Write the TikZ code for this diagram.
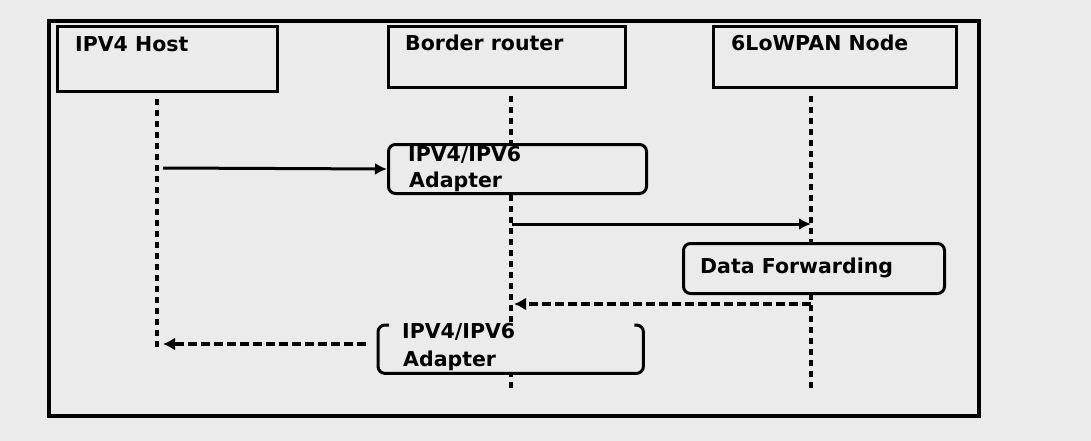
\documentclass[tikz,border=0pt]{standalone}
\usepackage{fontspec}
\setmainfont{DejaVu Sans}
\usetikzlibrary{arrows.meta}
\definecolor{bg}{HTML}{EBEBEB}
\begin{document}
\begin{tikzpicture}[x=1pt,y=-1pt,
  lbl/.style={anchor=base west, inner sep=0pt, font=\fontsize{20.5}{26}\selectfont\bfseries},
  headbox/.style={draw, line width=3.4pt, anchor=north west, inner sep=0pt, fill=bg},
  roundbox/.style={draw, line width=3pt, anchor=north west, inner sep=0pt, fill=bg, rounded corners=7pt},
  lifeline/.style={line width=4.5pt, dash pattern=on 6pt off 5pt},
  msg/.style={line width=3pt, -{Latex[length=12pt,width=12pt]}},
  retmsg/.style={line width=3.6pt, dash pattern=on 9pt off 4pt, -{Latex[length=12pt,width=13pt]}}
]
\fill[bg] (0,0) rectangle (1091,441);
\useasboundingbox (0,0) rectangle (1091,441);
\node[draw, line width=3.6pt, anchor=north west, minimum width=930pt, minimum height=395pt, inner sep=0pt] (frame) at (47,19) {};

% lifeline end points
\coordinate (h1top) at (157,99);
\coordinate (h1bot) at (157,350);
\coordinate (h2top) at (511,96);
\coordinate (h2bot) at (511,392);
\coordinate (h3top) at (811,96);
\coordinate (h3bot) at (811,392);
\draw[lifeline] (h1top) -- (h1bot);
\draw[lifeline] (h2top) -- (h2bot);
\draw[lifeline] (h3top) -- (h3bot);

% head boxes
\node[headbox, minimum width=220pt, minimum height=65pt] (host) at (56,25) {};
\node[headbox, minimum width=237pt, minimum height=61pt] (router) at (387,25) {};
\node[headbox, minimum width=243pt, minimum height=61pt] (node6) at (712,25) {};
\node[lbl] (thost) at (75,52) {IPV4 Host};
\node[lbl] (trouter) at (405,51) {Border router};
\node[lbl] (tnode6) at (731,51) {6LoWPAN Node};

% adapter 1
\node[roundbox, minimum width=258pt, minimum height=49pt] (ad1) at (387,143) {};
\node[lbl] (ta1) at (408,161) {IPV4/IPV6};
\node[lbl] (tb1) at (409,187) {Adapter};

% data forwarding
\node[roundbox, minimum width=261pt, minimum height=50pt] (df) at (682,242) {};
\node[lbl] (tdf) at (700,273) {Data Forwarding};

% adapter 2 (open top)
\node[anchor=north west, inner sep=0pt, minimum width=265pt, minimum height=48pt, fill=bg] (ad2) at (378,325) {};
\draw[line width=3pt, rounded corners=7pt] ([xshift=11pt]ad2.north west) -- (ad2.north west) -- (ad2.south west) -- (ad2.south east) -- (ad2.north east) -- ([xshift=-9pt]ad2.north east);
\node[lbl] (ta2) at (402,338) {IPV4/IPV6};
\node[lbl] (tb2) at (403,366) {Adapter};

% messages
\coordinate (m1s) at (163,168);
\draw[msg] (m1s) -- (ad1.west);
\coordinate (m2s) at (512,224);
\coordinate (m2e) at (811,224);
\draw[msg] (m2s) -- (m2e);
\coordinate (m3s) at (811,304);
\coordinate (m3e) at (514,304);
\draw[retmsg] (m3s) -- (m3e);
\coordinate (m4s) at (366,344);
\coordinate (m4e) at (163,344);
\draw[retmsg] (m4s) -- (m4e);
\end{tikzpicture}
\end{document}
